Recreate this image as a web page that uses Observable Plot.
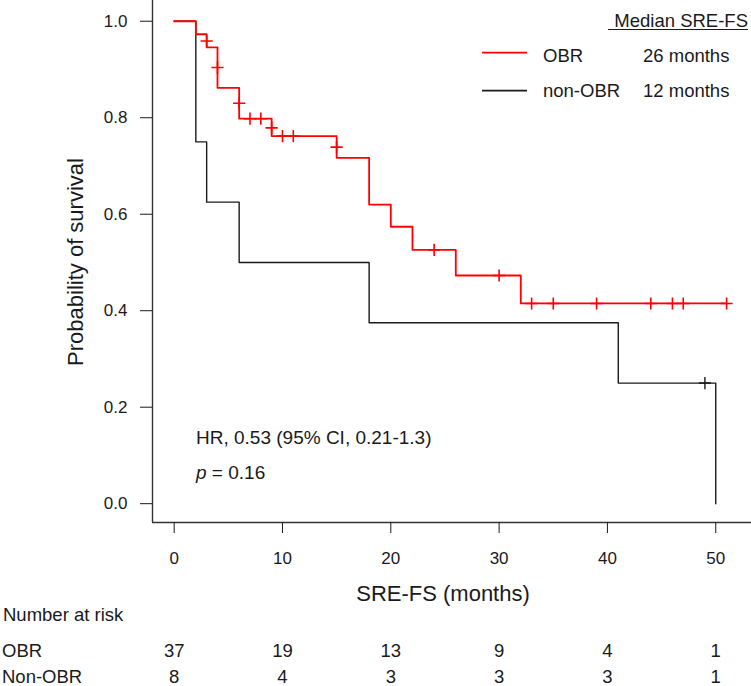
<!DOCTYPE html>
<html><head><meta charset="utf-8">
<script src="https://cdn.jsdelivr.net/npm/d3@7"></script>
<script src="https://cdn.jsdelivr.net/npm/@observablehq/plot@0.6"></script>
<style>body{margin:0;background:#fff}#chart svg{display:block}</style>
</head><body><div id="chart"></div>
<script>
// Kaplan-Meier step values
const obrTime = [0, 2, 3, 4, 6, 9, 15, 18, 20, 22, 26, 32, 51];
const obrSurv = [1.0, 0.973, 0.946, 0.862, 0.798, 0.762, 0.717, 0.620, 0.574, 0.526, 0.473, 0.415, 0.415];
const nonTime = [0, 2, 3, 6, 18, 41, 50];
const nonSurv = [1.0, 0.75, 0.625, 0.5, 0.375, 0.25, 0.0];
// censoring marks
const obrCensTime = [3, 4, 6, 7, 8, 9, 10, 11, 15, 24, 30, 33, 35, 39, 44, 46, 47, 51];
const obrCensSurv = [0.959, 0.904, 0.830, 0.798, 0.798, 0.779, 0.762, 0.762, 0.739, 0.526, 0.473, 0.415, 0.415, 0.415, 0.415, 0.415, 0.415, 0.415];
const nonCensTime = [49];
const nonCensSurv = [0.25];
// axes
const xTicks = [0, 10, 20, 30, 40, 50];
const yTicks = [0, 0.2, 0.4, 0.6, 0.8, 1.0];
// number at risk
const riskTimes = [0, 10, 20, 30, 40, 50];
const riskOBR = [37, 19, 13, 9, 4, 1];
const riskNon = [8, 4, 3, 3, 3, 1];
const groups = ["OBR", "non-OBR"];
const medians = ["26 months", "12 months"];
const colors = ["#ff0000", "#1a1a1a"];

const font = "'Liberation Sans', Arial, Helvetica, sans-serif";
const W = 751, H = 686;
const xDomain = [-2, 53.3], yDomain = [-0.039, 1.043];

const obr = obrTime.map((t, i) => ({t, s: obrSurv[i]}));
const non = nonTime.map((t, i) => ({t, s: nonSurv[i]}));
const obrC = obrCensTime.map((t, i) => ({t, s: obrCensSurv[i]}));
const nonC = nonCensTime.map((t, i) => ({t, s: nonCensSurv[i]}));
const rObr = riskTimes.map((t, i) => ({t, n: riskOBR[i]}));
const rNon = riskTimes.map((t, i) => ({t, n: riskNon[i]}));

const chart = Plot.plot({
  width: W, height: H,
  marginLeft: 152, marginRight: 0, marginTop: 0, marginBottom: 164,
  style: {fontFamily: font, background: "#fff", color: "#1a1a1a"},
  x: {domain: xDomain},
  y: {domain: yDomain},
  marks: [
    Plot.ruleX([xDomain[0]], {stroke: "#333", strokeWidth: 1.4}),
    Plot.ruleY([yDomain[0]], {stroke: "#333", strokeWidth: 1.4}),
    Plot.axisX({ticks: xTicks, tickSize: 11, tickPadding: 18, fontSize: 17, label: null, color: "#1a1a1a"}),
    Plot.axisY({ticks: yTicks, tickSize: 12, tickPadding: 13, fontSize: 17, tickFormat: d3.format(".1f"), label: null, color: "#1a1a1a"}),
    Plot.line(non, {x: "t", y: "s", curve: "step-after", stroke: colors[1], strokeWidth: 1.4}),
    Plot.dot(nonC, {x: "t", y: "s", symbol: "plus", r: 4, stroke: colors[1], fill: "none", strokeWidth: 1.4}),
    Plot.line(obr, {x: "t", y: "s", curve: "step-after", stroke: colors[0], strokeWidth: 1.8}),
    Plot.dot(obrC, {x: "t", y: "s", symbol: "plus", r: 4, stroke: colors[0], fill: "none", strokeWidth: 1.6}),
    Plot.text(rObr, {x: "t", text: "n", frameAnchor: "bottom", lineAnchor: "middle", dy: 129, fontSize: 18.5, fill: "#1a1a1a"}),
    Plot.text(rNon, {x: "t", text: "n", frameAnchor: "bottom", lineAnchor: "middle", dy: 155, fontSize: 18.5, fill: "#1a1a1a"})
  ]
});
document.getElementById("chart").appendChild(chart);

// annotations
const svg = d3.select(chart);
const g = svg.append("g").attr("font-family", font).attr("fill", "#1a1a1a");
function txt(x, y, s, size, anchor) {
  return g.append("text").attr("x", x).attr("y", y).attr("font-size", size)
    .attr("text-anchor", anchor || "start").text(s);
}
// axis titles
txt(443, 600.7, "SRE-FS (months)", 22, "middle");
g.append("text").attr("transform", "translate(83,262) rotate(-90)")
  .attr("font-size", 22).attr("text-anchor", "middle").text("Probability of survival");
// legend
txt(748, 27, "Median SRE-FS", 18.5, "end");
g.append("line").attr("x1", 608).attr("x2", 748).attr("y1", 29.5).attr("y2", 29.5)
  .attr("stroke", "#1a1a1a").attr("stroke-width", 1.2);
const legY = [52.7, 90.7], legBase = [62.3, 96.7];
groups.forEach((name, i) => {
  g.append("line").attr("x1", 482).attr("x2", 527).attr("y1", legY[i]).attr("y2", legY[i])
    .attr("stroke", colors[i]).attr("stroke-width", 1.8);
  txt(543, legBase[i], name, 18.5);
  txt(643, legBase[i], medians[i], 18.5);
});
// HR and p
txt(196, 444.3, "HR, 0.53 (95% CI, 0.21-1.3)", 19);
const pText = g.append("text").attr("x", 196).attr("y", 479).attr("font-size", 19).attr("text-anchor", "start");
pText.append("tspan").attr("x", 196).attr("font-style", "italic").text("p");
pText.append("tspan").text(" = 0.16");
// risk table labels
txt(3, 620.7, "Number at risk", 18.5);
txt(2, 656.7, "OBR", 18.5);
txt(2, 683, "Non-OBR", 18.5);
</script></body></html>
